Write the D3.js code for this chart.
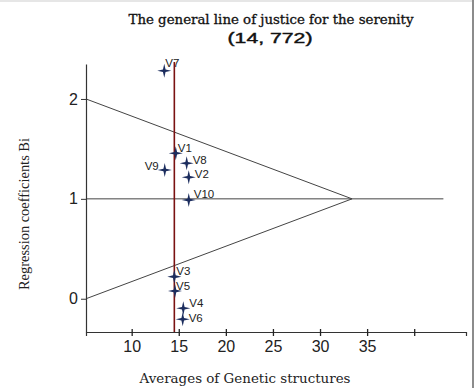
<!DOCTYPE html>
<html>
<head>
<meta charset="utf-8">
<script src="https://cdn.jsdelivr.net/npm/d3@7"></script>
<style>
  body { margin: 0; background: #fff; }
</style>
</head>
<body>
<div id="chart"></div>
<script>
// Data
const varieties = ["V1", "V2", "V3", "V4", "V5", "V6", "V7", "V8", "V9", "V10"];
const averages = [14.68, 16.06, 14.53, 15.48, 14.60, 15.42, 13.46, 15.84, 13.51, 16.06];
const coefficients = [1.456, 1.216, 0.221, -0.095, 0.078, -0.205, 2.283, 1.356, 1.289, 0.989];
const grandMean = 14.53;
const xTicks = [10, 15, 20, 25, 30, 35, 40];
const yTicks = [0, 1, 2];
// stability lines: [x1, y1, x2, y2]
const guideLines = [
    [5.15, 2, 33.4, 1],
    [5.15, 0, 33.4, 1],
    [5.15, 1, 43.1, 1]
];

// label offsets from marker (dx, dy, anchor)
const labelPos = {
    V1: [2, -5, "start"], V2: [6, -3, "start"], V3: [2, -6, "start"],
    V4: [6, -5, "start"], V5: [1, -5, "start"], V6: [6, -1, "start"],
    V7: [1, -8, "start"], V8: [6, -3, "start"], V9: [-6, -4, "end"],
    V10: [5, -6, "start"]
};

const width = 474, height = 388;

const svg = d3.select("#chart")
    .append("svg")
    .attr("width", width)
    .attr("height", height);

// frame edges of the original image
svg.append("rect").attr("x", 0).attr("y", 0).attr("width", width).attr("height", 2).attr("fill", "#e6e6e6");
svg.append("rect").attr("x", 472).attr("y", 0).attr("width", 2).attr("height", height).attr("fill", "#8c8c8c");

const xScale = d3.scaleLinear()
    .domain([5.15, 45.5])
    .range([86, 466]);

const yScale = d3.scaleLinear()
    .domain([-0.333, 2.35])
    .range([332, 64]);

// guide lines
svg.selectAll(".guide")
    .data(guideLines)
    .enter().append("line")
    .attr("x1", d => xScale(d[0]))
    .attr("y1", d => yScale(d[1]))
    .attr("x2", d => xScale(d[2]))
    .attr("y2", d => yScale(d[3]))
    .attr("stroke", "#444")
    .attr("stroke-width", 1);

// x axis
const xAxis = svg.append("g")
    .attr("transform", `translate(0,${yScale.range()[0]})`)
    .call(d3.axisBottom(xScale).tickValues(xTicks).tickSize(4).tickFormat(d => d === 40 ? "" : d));
xAxis.select(".domain").attr("stroke", "#333").attr("stroke-width", 1.2);
xAxis.selectAll(".tick line").attr("y1", -3).attr("stroke", "#222").attr("stroke-width", 1.3);
xAxis.selectAll(".tick text")
    .attr("y", 9)
    .attr("dy", "0.71em")
    .style("font-family", "Liberation Sans, Arial, sans-serif")
    .style("font-size", "16px")
    .attr("fill", "#222");

// y axis
const yAxis = svg.append("g")
    .attr("transform", `translate(${xScale.range()[0]},0)`)
    .call(d3.axisLeft(yScale).tickValues(yTicks).tickSize(5).tickPadding(3).tickSizeOuter(0).tickFormat(d3.format("d")));
yAxis.select(".domain").attr("stroke", "#333").attr("stroke-width", 1.2);
yAxis.selectAll(".tick line").attr("stroke", "#333");
yAxis.selectAll(".tick text")
    .style("font-family", "Liberation Sans, Arial, sans-serif")
    .style("font-size", "16px")
    .attr("fill", "#222");

// grand mean line
svg.append("line")
    .attr("x1", xScale(grandMean))
    .attr("x2", xScale(grandMean))
    .attr("y1", yScale(2.37))
    .attr("y2", yScale.range()[0])
    .attr("stroke", "#7a1212")
    .attr("stroke-width", 1.6);

// four-pointed star markers
const star = "M0,-7 L1.3,-1.3 L7,0 L1.3,1.3 L0,7 L-1.3,1.3 L-7,0 L-1.3,-1.3 Z";
const pts = varieties.map((v, i) => ({ name: v, x: averages[i], y: coefficients[i] }));

svg.selectAll(".pt")
    .data(pts)
    .enter().append("path")
    .attr("d", star)
    .attr("transform", d => `translate(${xScale(d.x)},${yScale(d.y)})`)
    .attr("fill", "#1c2d5e");

svg.selectAll(".lbl")
    .data(pts)
    .enter().append("text")
    .attr("x", d => xScale(d.x) + labelPos[d.name][0])
    .attr("y", d => yScale(d.y) + labelPos[d.name][1])
    .attr("dy", "0.35em")
    .style("text-anchor", d => labelPos[d.name][2])
    .style("font-family", "Liberation Sans, Arial, sans-serif")
    .style("font-size", "11.5px")
    .attr("fill", "#222")
    .text(d => d.name);

// titles
svg.append("text")
    .attr("x", 271)
    .attr("y", 24)
    .style("text-anchor", "middle")
    .style("font-family", "DejaVu Serif, serif")
    .style("font-size", "12px")
    .attr("textLength", 285)
    .attr("lengthAdjust", "spacingAndGlyphs")
    .attr("fill", "#111")
    .attr("stroke", "#111")
    .attr("stroke-width", 0.3)
    .text("The general line of justice for the serenity");

svg.append("text")
    .attr("x", 270)
    .attr("y", 43)
    .style("text-anchor", "middle")
    .style("font-family", "Liberation Sans, Arial, sans-serif")
    .style("font-size", "14px")
    .attr("textLength", 85)
    .attr("lengthAdjust", "spacingAndGlyphs")
    .attr("fill", "#111")
    .attr("stroke", "#111")
    .attr("stroke-width", 0.4)
    .text("(14, 772)");

// x-axis label
svg.append("text")
    .attr("x", 245)
    .attr("y", 383)
    .style("text-anchor", "middle")
    .style("font-family", "DejaVu Serif, serif")
    .style("font-size", "12px")
    .attr("textLength", 211)
    .attr("lengthAdjust", "spacingAndGlyphs")
    .attr("fill", "#222")
    .text("Averages of Genetic structures");

// y-axis label
svg.append("text")
    .attr("transform", "rotate(-90)")
    .attr("x", -214)
    .attr("y", 29)
    .style("text-anchor", "middle")
    .style("font-family", "Liberation Serif, serif")
    .style("font-size", "14px")
    .attr("textLength", 152)
    .attr("lengthAdjust", "spacingAndGlyphs")
    .attr("fill", "#222")
    .text("Regression coefficients Bi");
</script>
</body>
</html>
